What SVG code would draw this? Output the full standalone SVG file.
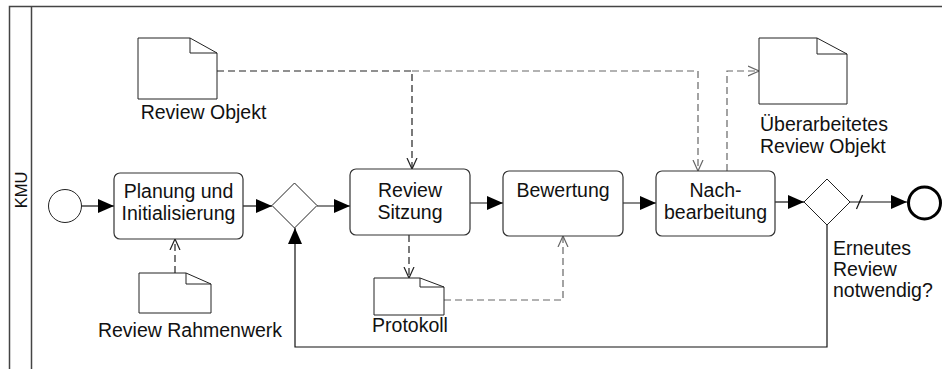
<svg xmlns="http://www.w3.org/2000/svg" width="942" height="369" viewBox="0 0 942 369">
<defs>
<style>
text{font-family:"Liberation Sans",Arial,sans-serif;font-size:19.5px;fill:#111}
.task{fill:#fff;stroke:#333;stroke-width:1.2}
.doc{fill:#fff;stroke:#222;stroke-width:1}
.gw{fill:#fff;stroke:#222;stroke-width:1}
.flow{fill:none;stroke:#111;stroke-width:1.2;marker-end:url(#fill)}
.assoc{fill:none;stroke:#222;stroke-width:1.2;stroke-dasharray:7,4;marker-end:url(#open)}
.assoc2{fill:none;stroke:#666;stroke-width:1.2;stroke-dasharray:7,4;marker-end:url(#open2)}
.pool{fill:none;stroke:#444;stroke-width:1.5}
</style>
<marker id="fill" viewBox="0 0 16 14" refX="16" refY="7" markerWidth="16" markerHeight="14" markerUnits="userSpaceOnUse" orient="auto">
<path d="M0,0 L16,7 L0,14 Z" fill="#000"/>
</marker>
<marker id="open" viewBox="0 0 12 12" refX="11" refY="6" markerWidth="12" markerHeight="12" markerUnits="userSpaceOnUse" orient="auto">
<path d="M0,1 L11,6 L0,11" fill="none" stroke="#222" stroke-width="1.2"/>
</marker>
<marker id="open2" viewBox="0 0 12 12" refX="11" refY="6" markerWidth="12" markerHeight="12" markerUnits="userSpaceOnUse" orient="auto">
<path d="M0,1 L11,6 L0,11" fill="none" stroke="#666" stroke-width="1.2"/>
</marker>
</defs>
<rect width="942" height="369" fill="#fff"/>
<g id="pool">
<path class="pool" d="M9.5,369 V6.5 H942 M31.5,6.5 V369"/>
<text transform="translate(27,190) rotate(-90)" text-anchor="middle" style="font-size:16.5px">KMU</text>
</g>
<g id="connectors">
<path class="flow" d="M82,206 H114"/>
<path class="flow" d="M243,206 H272"/>
<path class="flow" d="M317,206 H350"/>
<path class="flow" d="M470,203 H503"/>
<path class="flow" d="M623,203 H656"/>
<path class="flow" d="M775,202 H804"/>
<path class="flow" d="M850,202 H907"/>
<path d="M856.5,209 L862.5,195" stroke="#111" stroke-width="1.2"/>
<path class="flow" d="M827,224.5 V347 H295 V228"/>
<path class="assoc" d="M217,71 H412 V169"/>
<path class="assoc2" d="M412,71 H698 V171"/>
<path class="assoc2" d="M727,171 V71 H759"/>
<path class="assoc" d="M175,273 V239"/>
<path class="assoc" d="M409,235 V278"/>
<path class="assoc2" d="M444,300 H563 V236"/>
</g>
<g id="start"><circle cx="65" cy="206" r="16.5" fill="#fff" stroke="#222" stroke-width="1"/></g>
<g id="planung">
<rect class="task" x="114" y="173" width="129" height="66" rx="6"/>
<text x="178.5" y="198" text-anchor="middle">Planung und</text>
<text x="178.5" y="220" text-anchor="middle">Initialisierung</text>
</g>
<g id="gateway1"><path class="gw" d="M294.5,183 L317,205.5 L294.5,228 L272,205.5 Z"/></g>
<g id="review-sitzung">
<rect class="task" x="350" y="169" width="120" height="66" rx="6"/>
<text x="410" y="197" text-anchor="middle">Review</text>
<text x="410" y="219" text-anchor="middle">Sitzung</text>
</g>
<g id="bewertung">
<rect class="task" x="503" y="171" width="120" height="65" rx="6"/>
<text x="563" y="197" text-anchor="middle">Bewertung</text>
</g>
<g id="nachbearbeitung">
<rect class="task" x="656" y="171" width="119" height="65" rx="6"/>
<text x="715.5" y="197" text-anchor="middle">Nach-</text>
<text x="715.5" y="219" text-anchor="middle">bearbeitung</text>
</g>
<g id="gateway2">
<path class="gw" d="M827,179 L850,202 L827,225 L804,202 Z"/>
<text x="833" y="255">Erneutes</text>
<text x="833" y="276">Review</text>
<text x="833" y="297">notwendig?</text>
</g>
<g id="end"><circle cx="924.5" cy="203" r="16" fill="#fff" stroke="#000" stroke-width="3"/></g>
<g id="review-objekt">
<path class="doc" d="M138,38 H190 L217,53 V99 H138 Z M190,38 V53 H217"/>
<text x="203.5" y="119" text-anchor="middle">Review Objekt</text>
</g>
<g id="ueberarbeitetes">
<path class="doc" d="M759,38 H817 L847,54 V104 H759 Z M817,38 V54 H847"/>
<text x="760" y="131">Überarbeitetes</text>
<text x="760" y="153">Review Objekt</text>
</g>
<g id="rahmenwerk">
<path class="doc" d="M139,273 H186 L211,284 V313 H139 Z M186,273 V284 H211"/>
<text x="190" y="337" text-anchor="middle">Review Rahmenwerk</text>
</g>
<g id="protokoll">
<path class="doc" d="M374,278 H420 L444,287 V315 H374 Z M420,278 V287 H444"/>
<text x="410" y="332" text-anchor="middle">Protokoll</text>
</g>
</svg>
